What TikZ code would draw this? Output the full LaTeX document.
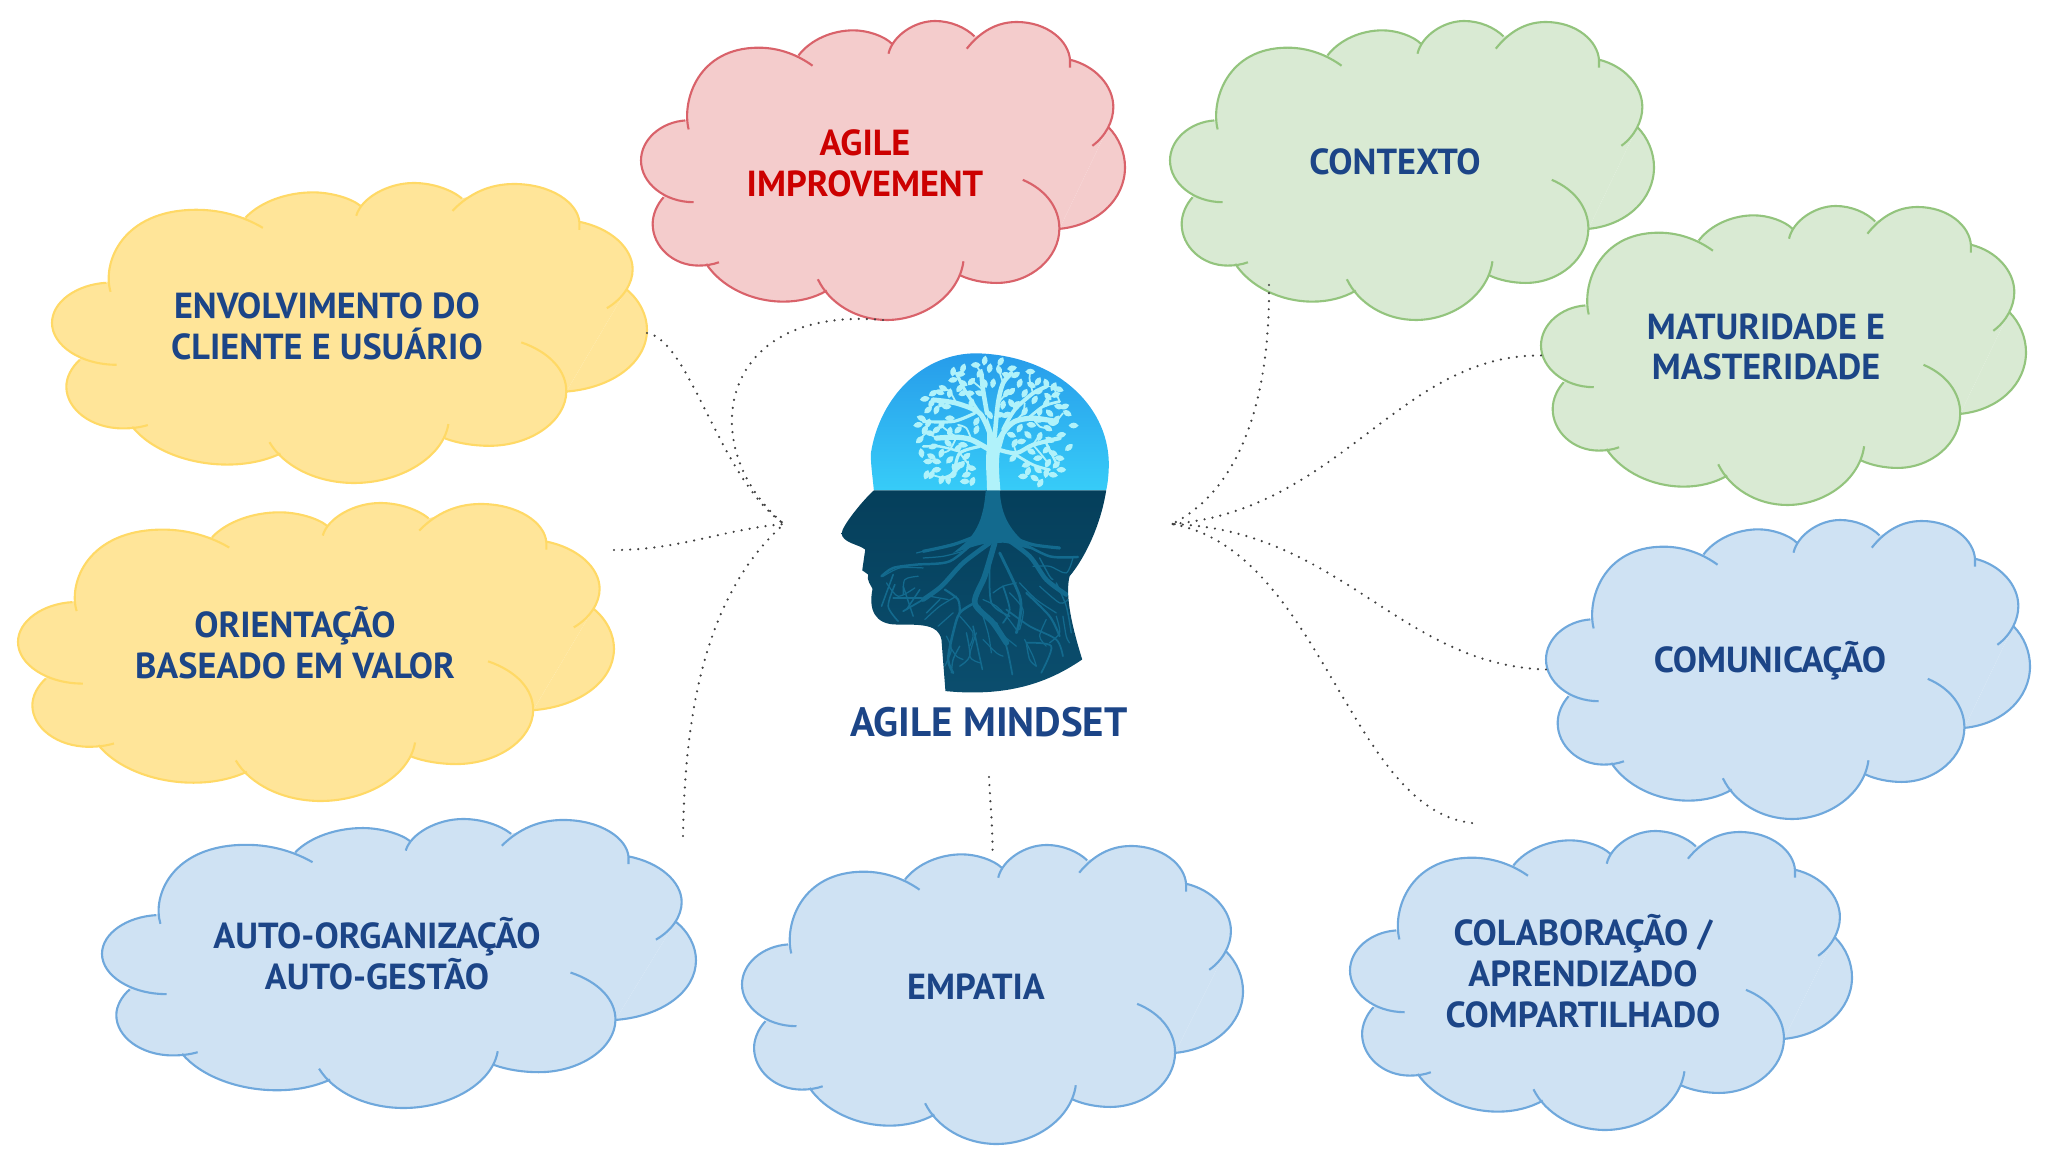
\documentclass[tikz,border=0pt]{standalone}
\usepackage{fontspec}
\setmainfont{PT Sans}
\definecolor{yellowfill}{HTML}{FFE599}
\definecolor{yellowedge}{HTML}{FFD966}
\definecolor{bluefill}{HTML}{CFE2F3}
\definecolor{blueedge}{HTML}{6FA8DC}
\definecolor{greenfill}{HTML}{D9EAD3}
\definecolor{greenedge}{HTML}{93C47D}
\definecolor{redfill}{HTML}{F4CCCC}
\definecolor{rededge}{HTML}{D9626A}
\definecolor{labelblue}{HTML}{1C4587}
\definecolor{labelred}{HTML}{CC0000}
\definecolor{headtop}{HTML}{279CEA}
\definecolor{headmid}{HTML}{37CCF8}
\definecolor{neckdark}{HTML}{0B4E6E}
\definecolor{facedark}{HTML}{053F5B}
\definecolor{treelight}{HTML}{B0F2FA}
\definecolor{rootblue}{HTML}{136A8E}
\tikzset{
  yellowcloud/.style={fill=yellowfill,draw=yellowedge},
  bluecloud/.style={fill=bluefill,draw=blueedge},
  greencloud/.style={fill=greenfill,draw=greenedge},
  redcloud/.style={fill=redfill,draw=rededge},
  cloudbox/.style={rectangle,inner sep=0pt,outer sep=0pt},
  cloudlabel/.style={align=center,text=labelblue,font=\fontsize{10.3}{11.6}\selectfont\bfseries},
  link/.style={line width=0.7pt,line cap=round,dash pattern=on 0pt off 2.3pt,color=black!75},
  rootline/.style={draw=rootblue,line cap=round,line join=round},
  branchline/.style={draw=treelight,line cap=round,line join=round}
}
\newcommand{\cloudblob}[6]{%
\begin{scope}[shift={(#2,#3)},xscale=#4/1453,yscale=#5/896]
\path[#6,draw=none] (133,298) -- (353,85) -- (473,103) -- (638,32) -- (753,68) -- (883,5) -- (1001,46) -- (1128,8) -- (1288,118) -- (1403,318) -- (1256,623) -- (1068,780) -- (960,763) -- (738,890) -- (558,808) -- (428,835) -- (196,728) -- (173,728) -- (68,528) -- cycle;
\path[#6,line width=0.6pt]
  (143,325) .. controls (122,240) and (170,80) .. (353,80) .. controls (420,80) and (475,105) .. (515,134)
  (473,103) .. controls (510,55) and (575,28) .. (638,28) .. controls (680,28) and (730,45) .. (753,68)
  (743,98) .. controls (755,45) and (820,0) .. (883,0) .. controls (930,0) and (975,20) .. (1001,46)
  (978,83) .. controls (1020,30) and (1070,3) .. (1128,3) .. controls (1220,3) and (1285,60) .. (1288,118) -- (1288,140)
  (1288,116) .. controls (1365,135) and (1418,195) .. (1418,258) .. controls (1418,300) and (1395,345) .. (1355,374)
  (1403,318) .. controls (1435,350) and (1453,395) .. (1453,438) .. controls (1453,535) and (1370,612) .. (1256,623)
  (1146,476) .. controls (1215,505) and (1256,560) .. (1256,622) .. controls (1256,710) and (1170,785) .. (1068,785) .. controls (1030,785) and (990,777) .. (960,763)
  (968,720) .. controls (955,820) and (850,896) .. (738,896) .. controls (645,896) and (565,845) .. (531,774)
  (558,808) .. controls (520,830) and (475,841) .. (428,841) .. controls (330,841) and (240,795) .. (196,728)
  (234,723) .. controls (215,730) and (195,733) .. (173,733) .. controls (95,733) and (35,675) .. (35,608) .. controls (35,580) and (48,550) .. (68,528)
  (158,543) .. controls (70,543) and (0,485) .. (0,418) .. controls (0,355) and (60,303) .. (133,298);
\end{scope}
\node[cloudbox,minimum width=#4*0.01cm,minimum height=#5*0.01cm] (#1) at ({#2+#4/2},{#3+#5/2}) {};
}
\newcommand{\rootcurve}[2]{\draw[rootline,line width=#1pt] plot[smooth] coordinates {#2};}
\newcommand{\branchcurve}[2]{\draw[branchline,line width=#1pt] plot[smooth] coordinates {#2};}
\begin{document}
\begin{tikzpicture}[x=0.01cm,y=-0.01cm]
\useasboundingbox (0,0) rectangle (2048,1152);
\cloudblob{improvebox}{641}{21}{484}{299}{redcloud}
\cloudblob{contextobox}{1170}{21}{484}{299}{greencloud}
\cloudblob{maturidadebox}{1541}{206}{485}{299}{greencloud}
\cloudblob{comunicacaobox}{1546}{520}{484}{299}{bluecloud}
\cloudblob{colaboracaobox}{1350}{831}{502}{299}{bluecloud}
\cloudblob{empatiabox}{742}{845}{501}{299}{bluecloud}
\cloudblob{autobox}{102}{819}{594}{289}{bluecloud}
\cloudblob{orientacaobox}{18}{503}{596}{298}{yellowcloud}
\cloudblob{envolvimentobox}{52}{183}{595}{300}{yellowcloud}
\node[cloudlabel,text=labelred] (improve) at (865,163) {AGILE\\IMPROVEMENT};
\node[cloudlabel] (contexto) at (1395,162) {CONTEXTO};
\node[cloudlabel] (maturidade) at (1766,347) {MATURIDADE E\\MASTERIDADE};
\node[cloudlabel] (comunicacao) at (1770,661) {COMUNICAÇÃO};
\node[cloudlabel] (colaboracao) at (1583,971) {COLABORAÇÃO /\\APRENDIZADO\\COMPARTILHADO};
\node[cloudlabel] (empatia) at (976,987) {EMPATIA};
\node[cloudlabel] (auto) at (377,954) {AUTO-ORGANIZAÇÃO\\AUTO-GESTÃO};
\node[cloudlabel] (orientacao) at (295,643) {ORIENTAÇÃO\\BASEADO EM VALOR};
\node[cloudlabel] (envolvimento) at (327,326) {ENVOLVIMENTO DO\\CLIENTE E USUÁRIO};
\node[cloudlabel,font=\fontsize{11.65}{13}\selectfont\bfseries] (mindset) at (989,722) {AGILE MINDSET};
\coordinate (hubleft) at (784,524);
\coordinate (hubright) at (1172,524);
\coordinate (hubbottom) at (989,777);
\coordinate (orientend) at (614,550);
\coordinate (autoend) at (683,836);
\coordinate (contextoend) at (1269,285);
\coordinate (colabend) at (1472,823);
\draw[link] (envolvimentobox.east) .. controls (690,340) and (720,480) .. (hubleft);
\draw[link] (improvebox.south) .. controls (715,305) and (695,450) .. (hubleft);
\draw[link] (orientend) .. controls (680,550) and (720,530) .. (hubleft);
\draw[link] (autoend) .. controls (685,700) and (710,590) .. (hubleft);
\draw[link] (hubbottom) .. controls (990,800) and (993,830) .. ([yshift=-0.12cm]empatiabox.north);
\draw[link] (contextoend) .. controls (1270,400) and (1240,490) .. (hubright);
\draw[link] (maturidadebox.west) .. controls (1400,354) and (1340,510) .. (hubright);
\draw[link] (comunicacaobox.west) .. controls (1400,665) and (1340,530) .. (hubright);
\draw[link] (colabend) .. controls (1350,810) and (1320,550) .. (hubright);
\begin{scope}[shift={(800,330)},x=0.003333cm,y=-0.003333cm]
\path[top color=headtop,bottom color=headmid,draw=none] (222,482) .. controls (218,440) and (212,400) .. (213,370) .. controls (240,200) and (370,70) .. (530,70) .. controls (760,75) and (925,220) .. (928,400) .. controls (928,430) and (925,460) .. (920,482) -- cycle;
\path[top color=facedark,bottom color=neckdark,draw=none] (222,482) .. controls (190,510) and (125,590) .. (125,612) .. controls (128,640) and (180,645) .. (196,660) -- (187,722) -- (205,735) .. controls (198,750) and (215,770) .. (218,778) .. controls (205,840) and (225,885) .. (290,885) .. controls (370,885) and (415,885) .. (425,930) -- (437,1085) .. controls (640,1105) and (760,1050) .. (848,990) .. controls (820,900) and (795,800) .. (810,740) .. controls (860,680) and (905,580) .. (920,482) -- cycle;
\begin{scope}
\clip (222,482) .. controls (190,510) and (125,590) .. (125,612) .. controls (128,640) and (180,645) .. (196,660) -- (187,722) -- (205,735) .. controls (198,750) and (215,770) .. (218,778) .. controls (205,840) and (225,885) .. (290,885) .. controls (370,885) and (415,885) .. (425,930) -- (437,1085) .. controls (640,1105) and (760,1050) .. (848,990) .. controls (820,900) and (795,800) .. (810,740) .. controls (860,680) and (905,580) .. (920,482) -- cycle;
\begin{scope}[shift={(180,510)}]
\fill[rootblue] (378,-28) -- (420,-28) .. controls (425,50) and (450,95) .. (520,150) .. controls (470,140) and (440,125) .. (420,130) .. controls (370,125) and (320,150) .. (280,160) .. controls (330,120) and (370,90) .. (378,-28);
\rootcurve{1.3}{(430,110)(510,170)(560,240)(620,285)}
\rootcurve{0.9}{(450,110)(520,135)(600,145)}
\rootcurve{0.7}{(480,125)(570,170)(655,172)}
\rootcurve{0.9}{(360,105)(280,135)(190,155)}
\rootcurve{0.7}{(350,120)(270,185)(170,195)(100,205)(65,230)}
\rootcurve{1.3}{(390,130)(310,190)(245,260)(190,300)}
\rootcurve{0.5}{(190,300)(130,335)}
\rootcurve{1.6}{(405,130)(375,230)(345,310)(400,370)(440,430)}
\rootcurve{0.8}{(420,160)(480,290)(480,360)(470,400)}
\rootcurve{0.7}{(345,310)(300,340)(280,400)(265,480)(280,520)}
\rootcurve{0.45}{(100,225)(65,320)}
\rootcurve{0.45}{(105,255)(85,320)(115,365)}
\rootcurve{0.45}{(180,270)(140,330)}
\rootcurve{0.4}{(100,295)(185,295)}
\rootcurve{0.6}{(255,270)(295,300)(300,340)}
\rootcurve{0.4}{(130,260)(160,350)}
\rootcurve{0.4}{(200,340)(240,300)}
\rootcurve{0.45}{(340,380)(355,450)(368,510)}
\rootcurve{0.5}{(410,370)(440,440)(458,525)}
\rootcurve{0.5}{(440,330)(510,380)(590,420)(610,470)}
\rootcurve{0.6}{(500,280)(570,350)(600,410)}
\rootcurve{0.5}{(500,430)(575,440)(545,520)}
\rootcurve{0.4}{(500,430)(510,480)(530,500)}
\rootcurve{0.4}{(590,250)(620,320)(635,400)}
\rootcurve{0.4}{(300,440)(280,480)(275,520)}
\rootcurve{0.4}{(320,400)(330,470)(300,500)}
\rootcurve{0.5}{(390,200)(395,310)(450,350)}
\rootcurve{0.5}{(430,260)(450,330)(430,370)}
\rootcurve{0.4}{(540,175)(570,230)(580,240)}
\rootcurve{0.35}{(170,160)(230,145)(290,130)}
\rootcurve{0.35}{(190,175)(250,170)(310,155)}
\rootcurve{0.35}{(70,230)(120,205)(190,205)}
\rootcurve{0.35}{(80,250)(115,290)(165,265)}
\rootcurve{0.35}{(130,285)(135,240)(175,230)}
\rootcurve{0.35}{(195,360)(240,320)(290,290)}
\rootcurve{0.35}{(210,290)(265,300)}
\rootcurve{0.35}{(235,380)(280,340)}
\rootcurve{0.35}{(260,410)(275,450)(255,500)}
\rootcurve{0.35}{(300,350)(340,400)(330,440)}
\rootcurve{0.35}{(360,320)(385,400)(395,460)}
\rootcurve{0.35}{(400,280)(430,260)(470,250)}
\rootcurve{0.35}{(480,250)(530,300)(590,340)}
\rootcurve{0.35}{(540,260)(600,310)(625,300)}
\rootcurve{0.35}{(520,200)(570,200)(620,220)(640,175)}
\rootcurve{0.35}{(370,300)(410,320)(440,350)(470,390)}
\rootcurve{0.35}{(450,280)(490,330)(480,390)}
\rootcurve{0.35}{(495,420)(520,470)(530,500)}
\rootcurve{0.35}{(570,430)(600,400)(590,350)}
\rootcurve{0.35}{(560,360)(540,410)(560,440)}
\rootcurve{0.35}{(610,350)(620,410)(630,430)}
\rootcurve{0.35}{(420,400)(470,440)}
\rootcurve{0.35}{(370,420)(410,460)(430,470)}
\rootcurve{0.35}{(350,400)(330,470)(360,490)}
\rootcurve{0.35}{(270,440)(290,470)(310,480)}
\end{scope}
\end{scope}
\begin{scope}[shift={(300,60)}]
\fill[treelight] (262,422) .. controls (262,380) and (255,330) .. (262,295) -- (262,200) -- (280,250) .. controls (285,280) and (295,260) .. (320,240) -- (300,310) .. controls (295,350) and (300,390) .. (302,422) -- cycle;
\branchcurve{1.5}{(280,310)(310,250)(345,215)(400,205)(470,215)}
\branchcurve{1.5}{(270,300)(215,270)(170,262)(110,265)}
\branchcurve{1.4}{(270,250)(240,190)(170,160)(100,150)}
\branchcurve{1.3}{(262,190)(250,120)(245,70)}
\branchcurve{1.3}{(285,260)(295,160)(310,100)(335,70)}
\branchcurve{1.1}{(310,240)(345,180)(400,130)(440,110)}
\branchcurve{1.2}{(298,300)(350,310)(400,285)(480,265)}
\branchcurve{0.8}{(340,310)(400,345)(450,360)}
\branchcurve{0.9}{(240,290)(180,310)(160,370)(130,385)}
\branchcurve{0.9}{(225,190)(160,215)(70,215)}
\branchcurve{0.9}{(240,190)(195,120)(170,70)}
\branchcurve{0.8}{(380,210)(430,170)(480,155)}
\branchcurve{0.7}{(180,305)(120,290)(70,290)}
\branchcurve{0.7}{(440,280)(470,340)}
\branchcurve{0.5}{(170,160)(150,125)(130,115)}
\branchcurve{0.5}{(170,262)(140,240)(120,225)}
\branchcurve{0.5}{(170,262)(150,300)(125,310)}
\branchcurve{0.5}{(110,265)(80,250)(60,270)}
\branchcurve{0.5}{(215,270)(200,235)(175,225)}
\branchcurve{0.5}{(345,215)(370,190)(375,160)}
\branchcurve{0.5}{(400,205)(420,230)(445,235)}
\branchcurve{0.5}{(470,215)(490,190)}
\branchcurve{0.5}{(400,285)(420,255)}
\branchcurve{0.5}{(400,285)(430,320)(445,340)}
\branchcurve{0.5}{(350,310)(340,280)}
\branchcurve{0.5}{(400,130)(390,90)(392,65)}
\branchcurve{0.5}{(440,110)(470,110)}
\branchcurve{0.5}{(295,160)(320,130)}
\branchcurve{0.5}{(310,100)(298,60)}
\branchcurve{0.5}{(250,120)(220,95)}
\branchcurve{0.5}{(245,70)(228,45)}
\branchcurve{0.5}{(160,370)(145,390)}
\branchcurve{0.5}{(180,310)(215,355)}
\branchcurve{0.5}{(205,335)(200,375)}
\branchcurve{0.5}{(130,385)(95,375)}
\branchcurve{0.5}{(430,170)(445,140)}
\branchcurve{0.5}{(480,155)(462,110)}
\foreach \lx/\ly/\la in {75/147/10,120/127/-20,160/65/80,182/72/0,190/55/70,228/45/0,255/32/80,303/35/60,337/55/10,320/75/-20,348/75/30,392/65/0,415/95/60,440/100/-70,462/110/60,478/118/-20,468/135/20,160/90/10,190/100/-30,215/95/45,240/70/60,270/55/80,298/60/-70,100/130/30,130/115/-30,95/160/60,110/180/70,65/205/-20,55/225/10,85/220/70,125/225/60,150/245/80,60/270/40,65/310/100,85/335/0,110/335/-10,125/310/70,150/330/45,95/375/60,125/390/70,145/390/-80,160/375/45,200/320/40,215/355/-10,200/375/20,195/395/0,218/395/70,175/350/70,360/100/70,375/130/60,350/165/50,375/185/60,405/150/60,445/140/-45,420/185/80,450/190/-45,478/170/-10,495/170/20,503/190/-30,470/210/60,522/227/0,445/235/-30,395/225/-10,360/235/60,385/255/-45,345/280/60,420/260/70,450/270/-30,485/255/10,508/293/40,460/310/-20,480/325/-10,415/325/10,445/340/60,470/345/45,485/360/0,380/345/20,370/380/0,405/385/-30,460/375/-10,422/400/60,340/325/45,240/130/-20,190/130/20,150/130/80,320/130/60,335/125/45,310/165/80,270/195/-60,230/215/60,150/205/0,175/240/45,300/195/10,320/195/30,85/180/40,140/170/0,125/160/60,180/115/50,210/130/0,215/160/70,255/100/-70,280/100/80,335/160/-60,395/105/-30,415/125/10,440/160/60,460/220/0,420/210/20,90/250/-10,110/240/40,75/240/60,100/290/20,145/280/-45,190/285/-10,175/295/40,95/320/-30,230/240/70,335/255/-20,365/275/10,395/305/-30,440/300/45,415/360/-40,385/365/70,440/370/80,185/345/50,165/355/-60,110/360/10,80/375/70}{
  \fill[treelight,shift={(\lx,\ly)},rotate=\la] (-15,0) .. controls (-6,-12) and (7,-11) .. (15,0) .. controls (7,11) and (-6,12) .. (-15,0);
}
\end{scope}
\end{scope}
\end{tikzpicture}
\end{document}
